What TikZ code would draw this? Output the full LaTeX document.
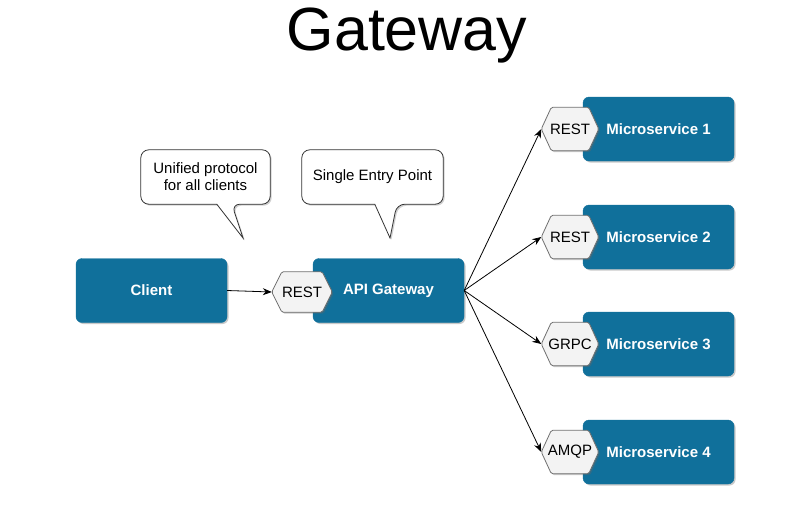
\documentclass[tikz,border=0pt]{standalone}
\usepackage{fontspec}
\setmainfont{Liberation Sans}
\usetikzlibrary{shadows,arrows.meta,calc}
\definecolor{boxblue}{HTML}{10709B}
\definecolor{hexfill}{HTML}{F3F3F3}
\definecolor{hexline}{HTML}{707070}
\tikzset{
  shadowed/.style={drop shadow={shadow xshift=1.5pt, shadow yshift=-1.5pt, opacity=0.35, fill=black!60}},
  svcbox/.style={fill=boxblue, draw=boxblue, rounded corners=6pt, minimum height=64pt,
    inner sep=0pt, shadowed},
  svctext/.style={text=white, font=\fontsize{15}{18}\selectfont\bfseries, inner sep=0pt},
  hexanchor/.style={inner sep=0pt},
  hexline/.style={fill=hexfill, draw=hexline, line width=0.8pt, rounded corners=1.5pt, shadowed},
  hextext/.style={font=\fontsize{15}{18}\selectfont, inner sep=0pt},
  callbox/.style={inner sep=0pt, align=center, font=\fontsize{15}{17}\selectfont},
  callline/.style={draw=black!80, fill=white, line width=0.8pt,
    drop shadow={shadow xshift=1.5pt, shadow yshift=-1.5pt, opacity=0.3, fill=black!60}},
  conn/.style={-{Stealth[length=9pt,width=7pt]}, line width=0.8pt, black}
}
\newcommand{\hexdraw}[2]{%
  \draw[hexline] (#1.west) -- ($(#1.north west)+(#2,0)$) -- ($(#1.north east)+(-#2,0)$) -- (#1.east)
    -- ($(#1.south east)+(-#2,0)$) -- ($(#1.south west)+(#2,0)$) -- cycle;}
\begin{document}
\begin{tikzpicture}[x=1pt,y=-1pt]
\useasboundingbox[fill=white] (0,0) rectangle (793,504);
\node[anchor=base, font=\fontsize{61}{66}\selectfont] (title) at (407,50) {Gateway};

\node[svcbox, minimum width=151pt] (client) at (151.5,290.5) {};
\node[svctext] (clienttext) at (client.center) {Client};
\node[svcbox, minimum width=151pt] (gw) at (388.5,290.5) {};
\node[hexanchor, minimum width=60pt, minimum height=40pt] (gwhex) at (302,292) {};
\hexdraw{gwhex}{10}
\node[hextext] (gwhextext) at (gwhex.center) {REST};
\node[svctext] (gwtext) at (388.5,290.5) {API Gateway};

\foreach \i/\y/\p in {1/129/REST, 2/237/REST, 3/344/GRPC, 4/452/AMQP}{
  \node[svcbox, minimum width=151pt] (ms\i) at (658.5,\y) {};
  \node[hexanchor, minimum width=57pt, minimum height=43pt] (hex\i) at (570,\y) {};
  \hexdraw{hex\i}{10}
  \node[hextext] (hext\i) at (hex\i.center) {\p};
  \node[svctext] (mst\i) at (658.5,\y) {Microservice \i};
}

\draw[conn] (client.east) -- (gwhex.west);
\foreach \i in {1,2,3,4}{
  \draw[conn] (gw.east) -- (hex\i.west);
}

% callout 1
\node[callbox, minimum width=129pt, minimum height=54pt] (c1) at (205.5,177) {};
\coordinate (t1) at (243,238);
\draw[callline] ($(c1.south west)+(76,0)$) [rounded corners=8pt] -- (c1.south west) -- (c1.north west) -- (c1.north east) -- (c1.south east) -- ($(c1.south west)+(91,0)$) [sharp corners] -- (t1) -- cycle;
\node[callbox] (c1text) at (c1.center) {Unified protocol\\for all clients};

% callout 2
\node[callbox, minimum width=141pt, minimum height=54pt] (c2) at (372.5,177) {};
\coordinate (t2) at (390,238);
\draw[callline] ($(c2.south west)+(73,0)$) [rounded corners=8pt] -- (c2.south west) -- (c2.north west) -- (c2.north east) -- (c2.south east) -- ($(c2.south west)+(95,0)$) [sharp corners] -- (t2) -- cycle;
\node[callbox] (c2text) at (c2.center) {Single Entry Point};
\end{tikzpicture}
\end{document}
